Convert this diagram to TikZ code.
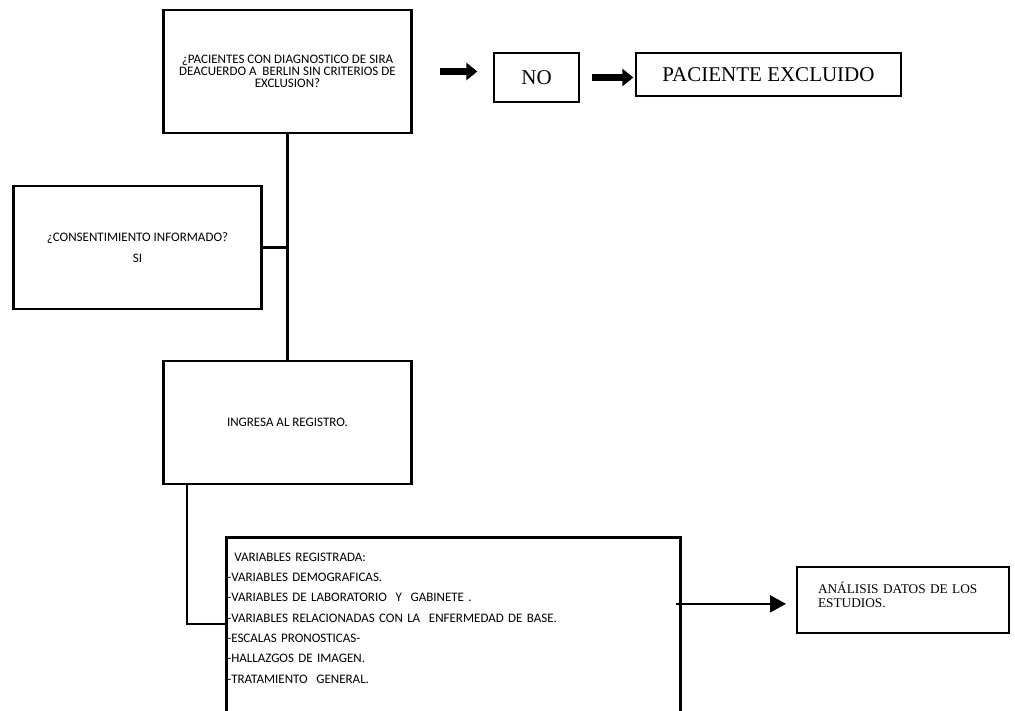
\documentclass[tikz,border=0pt]{standalone}
\usepackage{fontspec}
\setmainfont{Carlito}
\newfontfamily\timesfont{Liberation Serif}
\usetikzlibrary{arrows.meta}

\begin{document}
\begin{tikzpicture}[x=1pt, y=-1pt,
    qbox/.style={draw, line width=2.6pt, align=center,
      minimum width=248pt, minimum height=123pt,
      font=\fontsize{13}{12.3}\selectfont},
    thinbox/.style={draw, line width=1.3pt,
      font=\timesfont\fontsize{21}{24}\selectfont},
    link/.style={line width=2.2pt},
    bigarrow/.style={line width=7.5pt, -{Triangle[length=11pt,width=17pt]}}]
  \useasboundingbox (0,0) rectangle (1015,711);
  \clip (0,0) rectangle (1015,711);

  % Question boxes
  \node[qbox] (sira) at (287.5,71.5)
    {¿PACIENTES CON DIAGNOSTICO DE SIRA\\DEACUERDO A~~BERLIN SIN CRITERIOS DE\\EXCLUSION?};
  \node[qbox] (consent) at (137.5,247.5)
    {¿CONSENTIMIENTO INFORMADO?\\[9pt]SI};
  \node[qbox] (registro) at (287.5,422.5) {INGRESA AL REGISTRO.};

  % Exclusion branch
  \node[thinbox, minimum width=85pt, minimum height=49pt] (no) at (536.5,77.5) {NO};
  \node[thinbox, minimum width=265pt, minimum height=43pt] (excl) at (768.5,74.5)
    {PACIENTE EXCLUIDO};
  \draw[bigarrow, shorten <=27pt, shorten >=16pt] (sira.east) -- (sira.east -| no.west);
  \draw[bigarrow, shorten <=12pt, shorten >=2pt] (no.east) -- (no.east -| excl.west);

  % Variables box (runs off the page)
  \node[draw, line width=2.6pt, anchor=north west, text width=452pt, align=left,
        inner xsep=1pt, inner ysep=9pt, font=\fontsize{13}{20.3}\selectfont]
    (vars) at (225,536)
    {\rule{0pt}{15pt}\hspace{7pt}VARIABLES REGISTRADA:\\
     -VARIABLES DEMOGRAFICAS.\\
     -VARIABLES DE LABORATORIO~~Y~~GABINETE~.\\
     -VARIABLES RELACIONADAS CON LA~~ENFERMEDAD DE BASE.\\
     -ESCALAS PRONOSTICAS-\\
     -HALLAZGOS DE IMAGEN.\\
     -TRATAMIENTO~~GENERAL.\\[40pt]
     \mbox{}};

  \node[draw, line width=2pt, anchor=north west, text width=170pt, align=left,
        inner xsep=21pt, inner ysep=4pt, font=\timesfont\fontsize{13.3}{14.7}\selectfont]
    (analisis) at (796,566)
    {\rule{0pt}{22pt}ANÁLISIS DATOS DE LOS\\ESTUDIOS.\rule[-21pt]{0pt}{21pt}};

  % Connectors
  \coordinate (j) at (sira.south |- consent.east);
  \draw[line width=3pt] (sira.south) -- (j);
  \draw[link] (j) -- (registro.north);
  \draw[link] (consent.east) -- (j);
  \draw[link] ([xshift=25pt]registro.south west) |- ([yshift=-88pt]vars.north west);
  \path (vars.north east |- analisis.west) ++(-6,4) coordinate (vout);
  \draw[link, -{Triangle[length=16pt,width=17pt]}, shorten >=10pt]
    (vout) -- (vout -| analisis.west);
\end{tikzpicture}
\end{document}
